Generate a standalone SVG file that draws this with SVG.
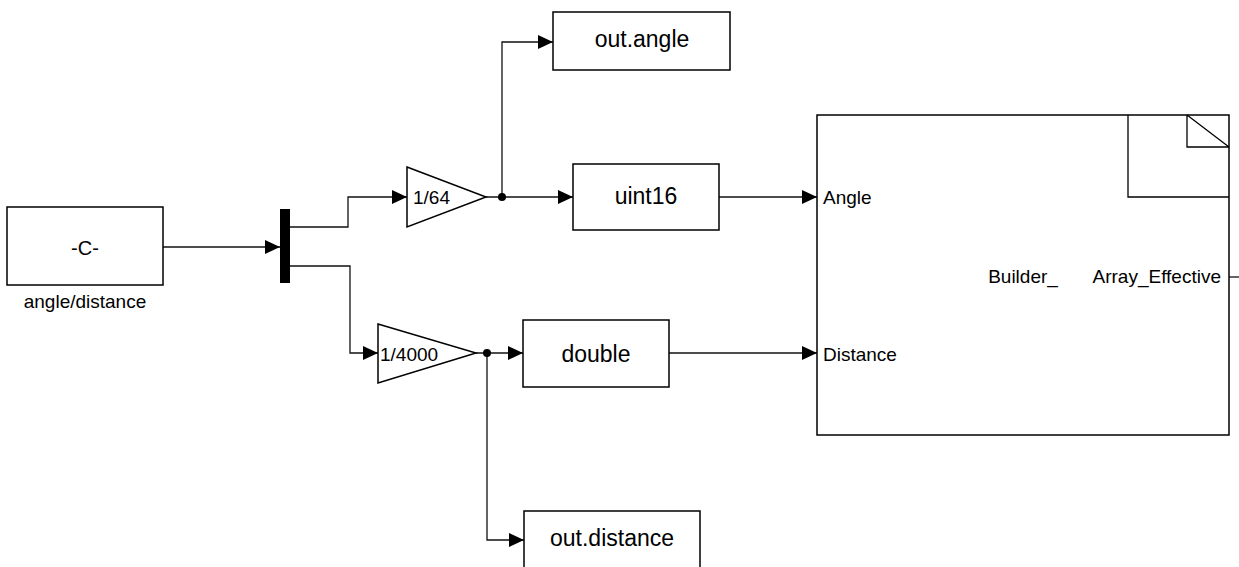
<svg xmlns="http://www.w3.org/2000/svg" width="1239" height="567" viewBox="0 0 1239 567">
<style>
.blk{fill:#fff;stroke:#000;stroke-width:1.5}
.ln{fill:none;stroke:#111;stroke-width:1.3}
.t{font-family:"Liberation Sans",Arial,sans-serif;fill:#000}
.big{font-size:23px}
.sm{font-size:19px}
</style>
<defs>
<marker id="arr" markerWidth="15" markerHeight="14" refX="15" refY="7" orient="auto" markerUnits="userSpaceOnUse">
<path d="M0,0 L15,7 L0,14 z" fill="#000"/>
</marker>
</defs>
<rect width="1239" height="567" fill="#fff"/>
<g id="connectors">
<path class="ln" d="M163 247 H280" marker-end="url(#arr)"/>
<path class="ln" d="M290 227 H348 V197 H407" marker-end="url(#arr)"/>
<path class="ln" d="M290 266 H350 V353 H378" marker-end="url(#arr)"/>
<path class="ln" d="M486 197 H573" marker-end="url(#arr)"/>
<path class="ln" d="M502 197 V42 H553" marker-end="url(#arr)"/>
<path class="ln" d="M476 353 H523" marker-end="url(#arr)"/>
<path class="ln" d="M487 353 V540 H524" marker-end="url(#arr)"/>
<path class="ln" d="M719 197 H817" marker-end="url(#arr)"/>
<path class="ln" d="M669 353 H817" marker-end="url(#arr)"/>
<path class="ln" d="M1229 277 H1239"/>
<circle cx="502" cy="197" r="4" fill="#000"/>
<circle cx="487" cy="353" r="4" fill="#000"/>
</g>
<g id="const">
<rect class="blk" x="7" y="207" width="156" height="78"/>
<text class="t" x="85" y="255" text-anchor="middle" font-size="20">-C-</text>
<text class="t sm" x="85" y="308" text-anchor="middle">angle/distance</text>
</g>
<g id="mux">
<rect x="280" y="209" width="10" height="74" fill="#000"/>
</g>
<g id="gain1">
<polygon class="blk" points="407,167 486,197 407,227"/>
<text class="t sm" x="413" y="204">1/64</text>
</g>
<g id="gain2">
<polygon class="blk" points="378,324 476,353 378,383"/>
<text class="t sm" x="380" y="361">1/4000</text>
</g>
<g id="uint16">
<rect class="blk" x="573" y="164" width="146" height="66"/>
<text class="t big" x="646" y="204" text-anchor="middle">uint16</text>
</g>
<g id="double">
<rect class="blk" x="523" y="320" width="146" height="67"/>
<text class="t big" x="596" y="362" text-anchor="middle">double</text>
</g>
<g id="out_angle">
<rect class="blk" x="553" y="12" width="177" height="58"/>
<text class="t big" x="642" y="47" text-anchor="middle">out.angle</text>
</g>
<g id="out_distance">
<rect class="blk" x="524" y="511" width="176" height="70"/>
<text class="t big" x="612" y="546" text-anchor="middle">out.distance</text>
</g>
<g id="subsystem">
<rect class="blk" x="817" y="115" width="412" height="320"/>
<path d="M1128 115 V197 H1229" fill="none" stroke="#000" stroke-width="1.3"/>
<path d="M1187 115 V147 H1229 M1187 115 L1229 147" fill="none" stroke="#000" stroke-width="1.3"/>
<text class="t sm" x="823" y="204">Angle</text>
<text class="t sm" x="823" y="361">Distance</text>
<text class="t sm" x="1023" y="283" text-anchor="middle">Builder_</text>
<text class="t sm" x="1221" y="283" text-anchor="end">Array_Effective</text>
</g>
</svg>
